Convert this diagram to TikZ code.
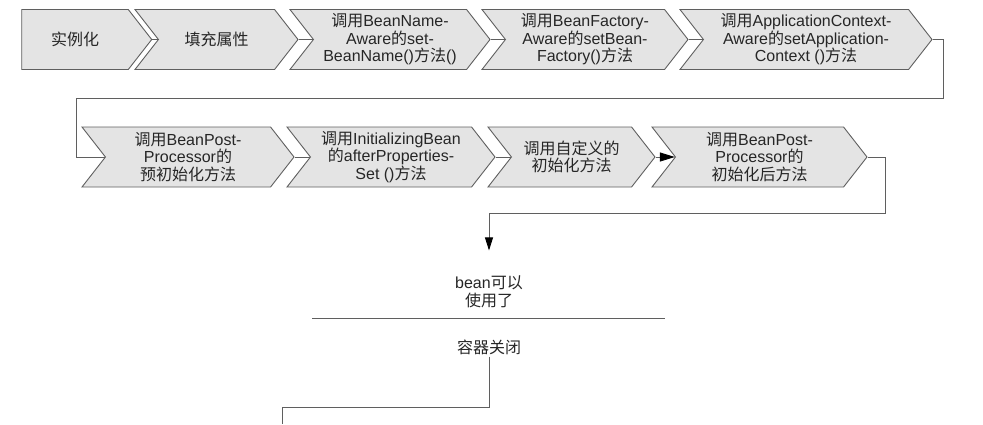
\documentclass[tikz,border=0pt]{standalone}
\usepackage{fontspec}
\setmainfont{Liberation Sans}
\newfontfamily\cjk{Noto Sans CJK SC}
\newcommand{\zh}[1]{{\cjk #1}}
\usetikzlibrary{shapes.symbols,arrows.meta}
\definecolor{edge}{RGB}{95,95,95}
\definecolor{paper}{RGB}{228,228,228}

\begin{document}
\begin{tikzpicture}[x=1pt,y=-1pt,
  stage/.style={shape=signal, signal to=east, signal from=west,
    signal pointer angle=104, draw=edge, fill=paper, line width=0.9pt,
    minimum height=60pt, inner sep=1pt, align=center, text=black!85,
    font=\fontsize{16}{17.5}\selectfont},
  first/.style={stage, signal from=nowhere},
  link/.style={draw=edge, line width=0.9pt},
  label/.style={align=center, inner sep=2pt, text=black!85,
    font=\fontsize{16}{18.5}\selectfont}]
\useasboundingbox (0,0) rectangle (983,424);

% first row
\node[first, minimum width=130pt] (inst) at (75,39.5) {\zh{实例化}};
\node[stage, minimum width=163pt] (fill) at (216.5,39.5) {\zh{填充属性}};
\node[stage, minimum width=200pt] (name) at (390,39.5)
  {\zh{调用}BeanName-\\Aware\zh{的}set-\\BeanName()\zh{方法}()};
\node[stage, minimum width=206pt] (fact) at (585,39.5)
  {\zh{调用}BeanFactory-\\Aware\zh{的}setBean-\\Factory()\zh{方法}};
\node[stage, minimum width=252pt] (app) at (806,39.5)
  {\zh{调用}ApplicationContext-\\Aware\zh{的}setApplication-\\Context ()\zh{方法}};

% second row
\node[stage, minimum width=212pt] (pre) at (188,157)
  {\zh{调用}BeanPost-\\Processor\zh{的}\\\zh{预初始化方法}};
\node[stage, minimum width=208pt] (init) at (391,157)
  {\zh{调用}InitializingBean\\\zh{的}afterProperties-\\Set ()\zh{方法}};
\node[stage, minimum width=167pt] (custom) at (571.5,157)
  {\zh{调用自定义的}\\\zh{初始化方法}};
\node[stage, minimum width=215pt] (post) at (759.5,157)
  {\zh{调用}BeanPost-\\Processor\zh{的}\\\zh{初始化后方法}};

% end of life
\node[label] (ready) at (489,292) {bean\zh{可以}\\\zh{使用了}};
\node[label] (close) at (489,347) {\zh{容器关闭}};
\coordinate (cut) at (282,424);

\draw[link] (inst.east) -- (fill.west);
\draw[link] (fill.east) -- (name.west);
\draw[link] (name.east) -- (fact.west);
\draw[link] (fact.east) -- (app.west);
\draw[link] (app.east) -- (943,39.5) |- (76,98) |- (pre.west);
\draw[link] (pre.east) -- (init.west);
\draw[link] (init.east) -- (custom.west);
\draw[link, -{Triangle[length=15pt,width=9pt,color=black]}] (custom.east) -- (post.west);
\draw[link, -{Triangle[length=13pt,width=8pt,color=black]}, shorten >=23pt]
  (post.east) -| (885,213) -| (ready.north);
\draw[link] (312,318) -- (665,318);
\draw[link] (close.south) -- (489,407) -| (cut);

\end{tikzpicture}
\end{document}
